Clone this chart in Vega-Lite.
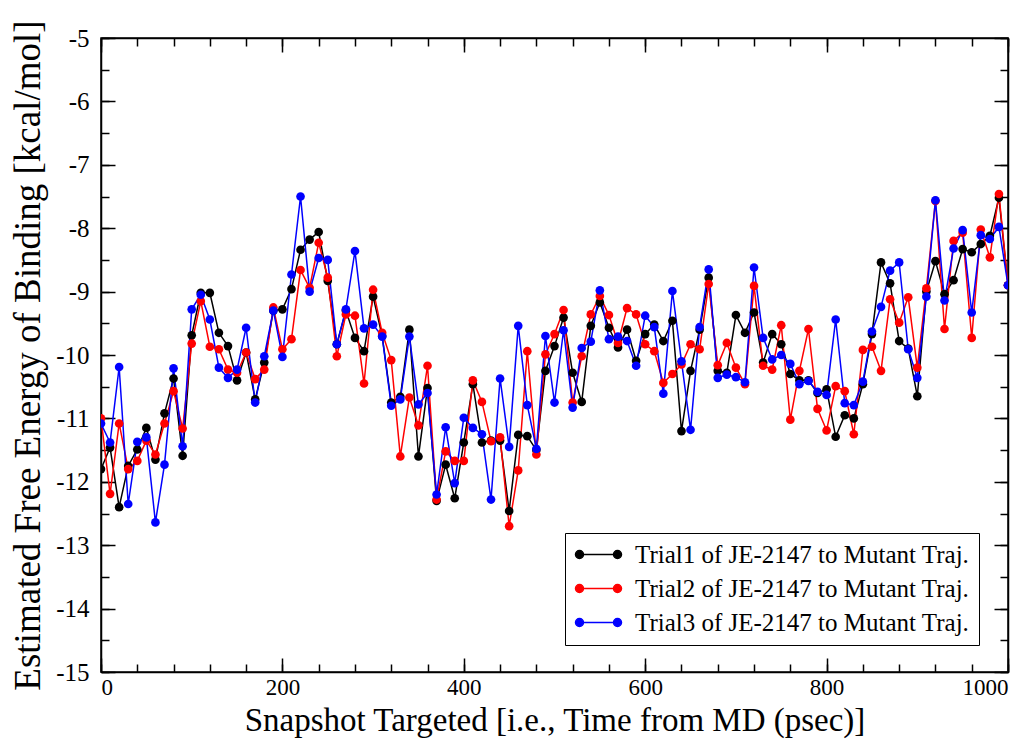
{
"$schema": "https://vega.github.io/schema/vega-lite/v6.json",
"autosize": "none",
"width": 907,
"height": 634,
"padding": {"left": 101, "top": 38, "right": 28, "bottom": 67},
"background": "white",
"config": {"view": {"stroke": "#000", "strokeWidth": 1.5}, "font": "Liberation Serif", "axis": {"labelFont": "Liberation Serif", "titleFont": "Liberation Serif"}, "legend": {"labelFont": "Liberation Serif"}},
"datasets": {
"d": [
{"x":0,"t":"Trial1","v":-11.8},{"x":0,"t":"Trial2","v":-11.0},{"x":0,"t":"Trial3","v":-11.08},
{"x":10,"t":"Trial1","v":-11.46},{"x":10,"t":"Trial2","v":-12.19},{"x":10,"t":"Trial3","v":-11.38},
{"x":20,"t":"Trial1","v":-12.4},{"x":20,"t":"Trial2","v":-11.08},{"x":20,"t":"Trial3","v":-10.19},
{"x":30,"t":"Trial1","v":-11.75},{"x":30,"t":"Trial2","v":-11.8},{"x":30,"t":"Trial3","v":-12.35},
{"x":40,"t":"Trial1","v":-11.49},{"x":40,"t":"Trial2","v":-11.67},{"x":40,"t":"Trial3","v":-11.37},
{"x":50,"t":"Trial1","v":-11.15},{"x":50,"t":"Trial2","v":-11.35},{"x":50,"t":"Trial3","v":-11.3},
{"x":60,"t":"Trial1","v":-11.65},{"x":60,"t":"Trial2","v":-11.57},{"x":60,"t":"Trial3","v":-12.64},
{"x":70,"t":"Trial1","v":-10.92},{"x":70,"t":"Trial2","v":-11.08},{"x":70,"t":"Trial3","v":-11.73},
{"x":80,"t":"Trial1","v":-10.37},{"x":80,"t":"Trial2","v":-10.57},{"x":80,"t":"Trial3","v":-10.21},
{"x":90,"t":"Trial1","v":-11.59},{"x":90,"t":"Trial2","v":-11.16},{"x":90,"t":"Trial3","v":-11.44},
{"x":100,"t":"Trial1","v":-9.69},{"x":100,"t":"Trial2","v":-9.82},{"x":100,"t":"Trial3","v":-9.28},
{"x":110,"t":"Trial1","v":-9.02},{"x":110,"t":"Trial2","v":-9.15},{"x":110,"t":"Trial3","v":-9.05},
{"x":120,"t":"Trial1","v":-9.02},{"x":120,"t":"Trial2","v":-9.87},{"x":120,"t":"Trial3","v":-9.44},
{"x":130,"t":"Trial1","v":-9.65},{"x":130,"t":"Trial2","v":-9.91},{"x":130,"t":"Trial3","v":-10.2},
{"x":140,"t":"Trial1","v":-9.86},{"x":140,"t":"Trial2","v":-10.23},{"x":140,"t":"Trial3","v":-10.36},
{"x":150,"t":"Trial1","v":-10.4},{"x":150,"t":"Trial2","v":-10.28},{"x":150,"t":"Trial3","v":-10.23},
{"x":160,"t":"Trial1","v":-9.96},{"x":160,"t":"Trial2","v":-9.96},{"x":160,"t":"Trial3","v":-9.57},
{"x":170,"t":"Trial1","v":-10.7},{"x":170,"t":"Trial2","v":-10.38},{"x":170,"t":"Trial3","v":-10.75},
{"x":180,"t":"Trial1","v":-10.12},{"x":180,"t":"Trial2","v":-10.23},{"x":180,"t":"Trial3","v":-10.02},
{"x":190,"t":"Trial1","v":-9.3},{"x":190,"t":"Trial2","v":-9.25},{"x":190,"t":"Trial3","v":-9.3},
{"x":200,"t":"Trial1","v":-9.28},{"x":200,"t":"Trial2","v":-9.91},{"x":200,"t":"Trial3","v":-10.03},
{"x":210,"t":"Trial1","v":-8.96},{"x":210,"t":"Trial2","v":-9.75},{"x":210,"t":"Trial3","v":-8.73},
{"x":220,"t":"Trial1","v":-8.34},{"x":220,"t":"Trial2","v":-8.66},{"x":220,"t":"Trial3","v":-7.5},
{"x":230,"t":"Trial1","v":-8.18},{"x":230,"t":"Trial2","v":-8.94},{"x":230,"t":"Trial3","v":-9.0},
{"x":240,"t":"Trial1","v":-8.06},{"x":240,"t":"Trial2","v":-8.23},{"x":240,"t":"Trial3","v":-8.47},
{"x":250,"t":"Trial1","v":-8.83},{"x":250,"t":"Trial2","v":-8.78},{"x":250,"t":"Trial3","v":-8.5},
{"x":260,"t":"Trial1","v":-9.83},{"x":260,"t":"Trial2","v":-10.02},{"x":260,"t":"Trial3","v":-9.83},
{"x":270,"t":"Trial1","v":-9.3},{"x":270,"t":"Trial2","v":-9.36},{"x":270,"t":"Trial3","v":-9.28},
{"x":280,"t":"Trial1","v":-9.73},{"x":280,"t":"Trial2","v":-9.38},{"x":280,"t":"Trial3","v":-8.36},
{"x":290,"t":"Trial1","v":-9.94},{"x":290,"t":"Trial2","v":-10.45},{"x":290,"t":"Trial3","v":-9.58},
{"x":300,"t":"Trial1","v":-9.08},{"x":300,"t":"Trial2","v":-8.97},{"x":300,"t":"Trial3","v":-9.52},
{"x":310,"t":"Trial1","v":-9.7},{"x":310,"t":"Trial2","v":-9.65},{"x":310,"t":"Trial3","v":-9.71},
{"x":320,"t":"Trial1","v":-10.75},{"x":320,"t":"Trial2","v":-10.08},{"x":320,"t":"Trial3","v":-10.8},
{"x":330,"t":"Trial1","v":-10.66},{"x":330,"t":"Trial2","v":-11.6},{"x":330,"t":"Trial3","v":-10.7},
{"x":340,"t":"Trial1","v":-9.6},{"x":340,"t":"Trial2","v":-10.67},{"x":340,"t":"Trial3","v":-9.71},
{"x":350,"t":"Trial1","v":-11.6},{"x":350,"t":"Trial2","v":-11.11},{"x":350,"t":"Trial3","v":-10.78},
{"x":360,"t":"Trial1","v":-10.52},{"x":360,"t":"Trial2","v":-10.17},{"x":360,"t":"Trial3","v":-10.6},
{"x":370,"t":"Trial1","v":-12.3},{"x":370,"t":"Trial2","v":-12.28},{"x":370,"t":"Trial3","v":-12.2},
{"x":380,"t":"Trial1","v":-11.73},{"x":380,"t":"Trial2","v":-11.52},{"x":380,"t":"Trial3","v":-11.14},
{"x":390,"t":"Trial1","v":-12.26},{"x":390,"t":"Trial2","v":-11.67},{"x":390,"t":"Trial3","v":-12.02},
{"x":400,"t":"Trial1","v":-11.38},{"x":400,"t":"Trial2","v":-11.67},{"x":400,"t":"Trial3","v":-10.99},
{"x":410,"t":"Trial1","v":-10.46},{"x":410,"t":"Trial2","v":-10.4},{"x":410,"t":"Trial3","v":-11.15},
{"x":420,"t":"Trial1","v":-11.38},{"x":420,"t":"Trial2","v":-10.74},{"x":420,"t":"Trial3","v":-11.25},
{"x":430,"t":"Trial1","v":-11.35},{"x":430,"t":"Trial2","v":-11.36},{"x":430,"t":"Trial3","v":-12.28},
{"x":440,"t":"Trial1","v":-11.35},{"x":440,"t":"Trial2","v":-11.3},{"x":440,"t":"Trial3","v":-10.37},
{"x":450,"t":"Trial1","v":-12.46},{"x":450,"t":"Trial2","v":-12.7},{"x":450,"t":"Trial3","v":-11.45},
{"x":460,"t":"Trial1","v":-11.26},{"x":460,"t":"Trial2","v":-11.82},{"x":460,"t":"Trial3","v":-9.54},
{"x":470,"t":"Trial1","v":-11.28},{"x":470,"t":"Trial2","v":-9.94},{"x":470,"t":"Trial3","v":-10.79},
{"x":480,"t":"Trial1","v":-11.5},{"x":480,"t":"Trial2","v":-11.57},{"x":480,"t":"Trial3","v":-11.48},
{"x":490,"t":"Trial1","v":-10.25},{"x":490,"t":"Trial2","v":-9.99},{"x":490,"t":"Trial3","v":-9.7},
{"x":500,"t":"Trial1","v":-9.86},{"x":500,"t":"Trial2","v":-9.67},{"x":500,"t":"Trial3","v":-10.75},
{"x":510,"t":"Trial1","v":-9.41},{"x":510,"t":"Trial2","v":-9.29},{"x":510,"t":"Trial3","v":-9.61},
{"x":520,"t":"Trial1","v":-10.28},{"x":520,"t":"Trial2","v":-10.75},{"x":520,"t":"Trial3","v":-10.83},
{"x":530,"t":"Trial1","v":-10.74},{"x":530,"t":"Trial2","v":-10.02},{"x":530,"t":"Trial3","v":-9.89},
{"x":540,"t":"Trial1","v":-9.54},{"x":540,"t":"Trial2","v":-9.36},{"x":540,"t":"Trial3","v":-9.79},
{"x":550,"t":"Trial1","v":-9.17},{"x":550,"t":"Trial2","v":-9.07},{"x":550,"t":"Trial3","v":-8.98},
{"x":560,"t":"Trial1","v":-9.57},{"x":560,"t":"Trial2","v":-9.37},{"x":560,"t":"Trial3","v":-9.75},
{"x":570,"t":"Trial1","v":-9.88},{"x":570,"t":"Trial2","v":-9.81},{"x":570,"t":"Trial3","v":-9.71},
{"x":580,"t":"Trial1","v":-9.6},{"x":580,"t":"Trial2","v":-9.26},{"x":580,"t":"Trial3","v":-9.78},
{"x":590,"t":"Trial1","v":-10.09},{"x":590,"t":"Trial2","v":-9.36},{"x":590,"t":"Trial3","v":-10.17},
{"x":600,"t":"Trial1","v":-9.67},{"x":600,"t":"Trial2","v":-9.83},{"x":600,"t":"Trial3","v":-9.38},
{"x":610,"t":"Trial1","v":-9.52},{"x":610,"t":"Trial2","v":-9.94},{"x":610,"t":"Trial3","v":-9.56},
{"x":620,"t":"Trial1","v":-9.78},{"x":620,"t":"Trial2","v":-10.44},{"x":620,"t":"Trial3","v":-10.61},
{"x":630,"t":"Trial1","v":-9.46},{"x":630,"t":"Trial2","v":-10.3},{"x":630,"t":"Trial3","v":-8.99},
{"x":640,"t":"Trial1","v":-11.2},{"x":640,"t":"Trial2","v":-10.15},{"x":640,"t":"Trial3","v":-10.1},
{"x":650,"t":"Trial1","v":-10.25},{"x":650,"t":"Trial2","v":-9.83},{"x":650,"t":"Trial3","v":-11.18},
{"x":660,"t":"Trial1","v":-9.6},{"x":660,"t":"Trial2","v":-9.91},{"x":660,"t":"Trial3","v":-9.56},
{"x":670,"t":"Trial1","v":-8.78},{"x":670,"t":"Trial2","v":-8.88},{"x":670,"t":"Trial3","v":-8.65},
{"x":680,"t":"Trial1","v":-10.25},{"x":680,"t":"Trial2","v":-10.16},{"x":680,"t":"Trial3","v":-10.36},
{"x":690,"t":"Trial1","v":-10.28},{"x":690,"t":"Trial2","v":-9.81},{"x":690,"t":"Trial3","v":-10.31},
{"x":700,"t":"Trial1","v":-9.37},{"x":700,"t":"Trial2","v":-10.2},{"x":700,"t":"Trial3","v":-10.35},
{"x":710,"t":"Trial1","v":-9.65},{"x":710,"t":"Trial2","v":-10.46},{"x":710,"t":"Trial3","v":-10.43},
{"x":720,"t":"Trial1","v":-9.33},{"x":720,"t":"Trial2","v":-8.91},{"x":720,"t":"Trial3","v":-8.62},
{"x":730,"t":"Trial1","v":-10.12},{"x":730,"t":"Trial2","v":-10.17},{"x":730,"t":"Trial3","v":-9.73},
{"x":740,"t":"Trial1","v":-9.67},{"x":740,"t":"Trial2","v":-10.23},{"x":740,"t":"Trial3","v":-10.07},
{"x":750,"t":"Trial1","v":-9.83},{"x":750,"t":"Trial2","v":-9.53},{"x":750,"t":"Trial3","v":-10.0},
{"x":760,"t":"Trial1","v":-10.3},{"x":760,"t":"Trial2","v":-11.02},{"x":760,"t":"Trial3","v":-10.14},
{"x":770,"t":"Trial1","v":-10.4},{"x":770,"t":"Trial2","v":-10.25},{"x":770,"t":"Trial3","v":-10.46},
{"x":780,"t":"Trial1","v":-10.4},{"x":780,"t":"Trial2","v":-9.59},{"x":780,"t":"Trial3","v":-10.41},
{"x":790,"t":"Trial1","v":-10.6},{"x":790,"t":"Trial2","v":-10.85},{"x":790,"t":"Trial3","v":-10.58},
{"x":800,"t":"Trial1","v":-10.54},{"x":800,"t":"Trial2","v":-11.19},{"x":800,"t":"Trial3","v":-10.63},
{"x":810,"t":"Trial1","v":-11.29},{"x":810,"t":"Trial2","v":-10.49},{"x":810,"t":"Trial3","v":-9.44},
{"x":820,"t":"Trial1","v":-10.95},{"x":820,"t":"Trial2","v":-10.57},{"x":820,"t":"Trial3","v":-10.76},
{"x":830,"t":"Trial1","v":-11.0},{"x":830,"t":"Trial2","v":-11.25},{"x":830,"t":"Trial3","v":-10.79},
{"x":840,"t":"Trial1","v":-10.46},{"x":840,"t":"Trial2","v":-9.92},{"x":840,"t":"Trial3","v":-10.42},
{"x":850,"t":"Trial1","v":-9.67},{"x":850,"t":"Trial2","v":-9.87},{"x":850,"t":"Trial3","v":-9.63},
{"x":860,"t":"Trial1","v":-8.54},{"x":860,"t":"Trial2","v":-10.25},{"x":860,"t":"Trial3","v":-9.24},
{"x":870,"t":"Trial1","v":-8.87},{"x":870,"t":"Trial2","v":-9.12},{"x":870,"t":"Trial3","v":-8.67},
{"x":880,"t":"Trial1","v":-9.78},{"x":880,"t":"Trial2","v":-9.49},{"x":880,"t":"Trial3","v":-8.54},
{"x":890,"t":"Trial1","v":-9.9},{"x":890,"t":"Trial2","v":-9.09},{"x":890,"t":"Trial3","v":-9.91},
{"x":900,"t":"Trial1","v":-10.65},{"x":900,"t":"Trial2","v":-10.2},{"x":900,"t":"Trial3","v":-10.36},
{"x":910,"t":"Trial1","v":-9.0},{"x":910,"t":"Trial2","v":-8.95},{"x":910,"t":"Trial3","v":-9.08},
{"x":920,"t":"Trial1","v":-8.52},{"x":920,"t":"Trial2","v":-7.57},{"x":920,"t":"Trial3","v":-7.56},
{"x":930,"t":"Trial1","v":-9.04},{"x":930,"t":"Trial2","v":-9.59},{"x":930,"t":"Trial3","v":-9.14},
{"x":940,"t":"Trial1","v":-8.82},{"x":940,"t":"Trial2","v":-8.2},{"x":940,"t":"Trial3","v":-8.32},
{"x":950,"t":"Trial1","v":-8.33},{"x":950,"t":"Trial2","v":-8.07},{"x":950,"t":"Trial3","v":-8.03},
{"x":960,"t":"Trial1","v":-8.38},{"x":960,"t":"Trial2","v":-9.73},{"x":960,"t":"Trial3","v":-9.33},
{"x":970,"t":"Trial1","v":-8.25},{"x":970,"t":"Trial2","v":-8.02},{"x":970,"t":"Trial3","v":-8.11},
{"x":980,"t":"Trial1","v":-8.12},{"x":980,"t":"Trial2","v":-8.46},{"x":980,"t":"Trial3","v":-8.17},
{"x":990,"t":"Trial1","v":-7.52},{"x":990,"t":"Trial2","v":-7.46},{"x":990,"t":"Trial3","v":-7.98},
{"x":1000,"t":"Trial1","v":-8.9},{"x":1000,"t":"Trial2","v":-8.9},{"x":1000,"t":"Trial3","v":-8.9}
]
},
"data": {"name": "d"},
"resolve": {"axis": {"x": "independent", "y": "independent"}},
"layer": [
{
"mark": {"type": "line", "strokeWidth": 1.5, "clip": true},
"encoding": {
"x": {"field": "x", "type": "quantitative", "scale": {"domain": [0, 1000], "nice": false},
"axis": {"orient": "bottom", "values": [0, 200, 400, 600, 800, 1000], "labelExpr": "'' + datum.value", "tickSize": -14, "tickColor": "#000", "tickWidth": 1.5, "domainColor": "#000", "domainWidth": 1.5, "labelPadding": 18, "labelFontSize": 23, "labelColor": "#000", "labelFont": "Liberation Serif", "grid": false, "title": "Snapshot Targeted [i.e., Time from MD (psec)]", "titleFont": "Liberation Serif", "titleFontSize": 33, "titleFontWeight": "normal", "titleColor": "#000", "titlePadding": 5}},
"y": {"field": "v", "type": "quantitative", "scale": {"domain": [-15, -5], "nice": false},
"axis": {"orient": "left", "values": [-15, -14, -13, -12, -11, -10, -9, -8, -7, -6, -5], "labelExpr": "'' + datum.value", "tickSize": -14, "tickColor": "#000", "tickWidth": 1.5, "domainColor": "#000", "domainWidth": 1.5, "labelPadding": 26, "labelFontSize": 25, "labelColor": "#000", "labelFont": "Liberation Serif", "grid": false, "title": "Estimated Free Energy of Binding [kcal/mol]", "titleFont": "Liberation Serif", "titleFontSize": 37, "titleFontWeight": "normal", "titleColor": "#000", "titlePadding": 8}},
"color": {"field": "t", "type": "nominal", "scale": {"domain": ["Trial1", "Trial2", "Trial3"], "range": ["#000000", "#ff0000", "#0000ff"]},
"legend": {"title": null, "orient": "none", "legendX": 464, "legendY": 495, "direction": "vertical", "labelExpr": "datum.label + ' of JE-2147 to Mutant Traj.'", "labelFont": "Liberation Serif", "labelFontSize": 25, "labelColor": "#000", "labelLimit": 500, "strokeColor": "#000", "fillColor": "#fff", "padding": 9, "rowPadding": 8, "symbolType": "M-1.6,0L1.6,0M-2.3,0A0.4,0.4,0,1,0,-1.5,0A0.4,0.4,0,1,0,-2.3,0M1.5,0A0.4,0.4,0,1,0,2.3,0A0.4,0.4,0,1,0,1.5,0", "symbolSize": 400, "symbolStrokeWidth": 1.5, "symbolOffset": 12, "labelOffset": 24}}
}
},
{
"mark": {"type": "point", "filled": true, "size": 75, "opacity": 1, "clip": true},
"encoding": {
"x": {"field": "x", "type": "quantitative", "axis": {"orient": "bottom", "values": [0,40,80,120,160,200,240,280,320,360,400,440,480,520,560,600,640,680,720,760,800,840,880,920,960,1000], "tickSize": -8, "tickColor": "#000", "tickWidth": 1.5, "domain": false, "labels": false, "grid": false, "title": null}},
"y": {"field": "v", "type": "quantitative", "axis": {"orient": "left", "values": [-15,-14.5,-14,-13.5,-13,-12.5,-12,-11.5,-11,-10.5,-10,-9.5,-9,-8.5,-8,-7.5,-7,-6.5,-6,-5.5,-5], "tickSize": -8, "tickColor": "#000", "tickWidth": 1.5, "domain": false, "labels": false, "grid": false, "title": null}},
"color": {"field": "t", "type": "nominal", "legend": null}
}
},
{
"mark": {"type": "point", "opacity": 0},
"encoding": {
"x": {"field": "x", "type": "quantitative", "axis": {"orient": "top", "values": [0, 200, 400, 600, 800, 1000], "tickSize": -14, "tickColor": "#000", "tickWidth": 1.5, "domainColor": "#000", "domainWidth": 1.5, "labels": false, "grid": false, "title": null}},
"y": {"field": "v", "type": "quantitative", "axis": {"orient": "right", "values": [-15, -14, -13, -12, -11, -10, -9, -8, -7, -6, -5], "tickSize": -14, "tickColor": "#000", "tickWidth": 1.5, "domainColor": "#000", "domainWidth": 1.5, "labels": false, "grid": false, "title": null}}
}
},
{
"mark": {"type": "point", "opacity": 0},
"encoding": {
"x": {"field": "x", "type": "quantitative", "axis": {"orient": "top", "values": [0,40,80,120,160,200,240,280,320,360,400,440,480,520,560,600,640,680,720,760,800,840,880,920,960,1000], "tickSize": -8, "tickColor": "#000", "tickWidth": 1.5, "domain": false, "labels": false, "grid": false, "title": null}},
"y": {"field": "v", "type": "quantitative", "axis": {"orient": "right", "values": [-15,-14.5,-14,-13.5,-13,-12.5,-12,-11.5,-11,-10.5,-10,-9.5,-9,-8.5,-8,-7.5,-7,-6.5,-6,-5.5,-5], "tickSize": -8, "tickColor": "#000", "tickWidth": 1.5, "domain": false, "labels": false, "grid": false, "title": null}}
}
}
]
}
